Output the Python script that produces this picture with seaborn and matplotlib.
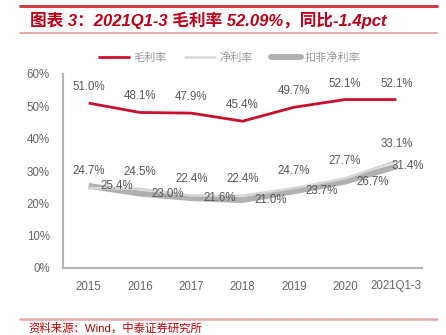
import matplotlib
matplotlib.use("Agg")
import matplotlib.pyplot as plt
import seaborn as sns
import pandas as pd
from matplotlib.lines import Line2D

# Data
years = ["2015", "2016", "2017", "2018", "2019", "2020", "2021Q1-3"]
gross_margin = [51.0, 48.1, 47.9, 45.4, 49.7, 52.1, 52.1]
net_margin = [24.7, 24.5, 22.4, 22.4, 24.7, 27.7, 33.1]
adj_net_margin = [25.4, 23.0, 21.6, 21.0, 23.7, 26.7, 31.4]
yticks = [0, 10, 20, 30, 40, 50, 60]

series_names = ["毛利率", "净利率", "扣非净利率"]
title_text = "图表 3：2021Q1-3 毛利率 52.09%，同比-1.4pct"
source_text = "资料来源：Wind，中泰证券研究所"

df = pd.DataFrame({
    "year": years,
    "gross": gross_margin,
    "net": net_margin,
    "adj": adj_net_margin,
})

sns.set_theme(style="white")
plt.rcParams["font.family"] = ["Liberation Sans", "Noto Sans CJK SC", "DejaVu Sans"]

RED = "#c8102e"
LIGHT = "#d6d6d6"
DARK = "#b0b0b0"
LABEL = "#595959"
AXIS = "#b4b4b4"

W, H = 446, 335
fig = plt.figure(figsize=(W / 100, H / 100), dpi=100)
ax = fig.add_axes([63 / W, 1 - 268 / H, (422 - 63) / W, (268 - 74) / H])

sns.lineplot(data=df, x="year", y="adj", ax=ax, color=DARK, linewidth=4.2,
             sort=False, solid_capstyle="butt")
sns.lineplot(data=df, x="year", y="net", ax=ax, color=LIGHT, linewidth=1.8,
             sort=False, solid_capstyle="butt")
sns.lineplot(data=df, x="year", y="gross", ax=ax, color=RED, linewidth=2.0,
             sort=False, solid_capstyle="butt")

ax.set_xlim(-0.5, len(years) - 0.5)
ax.set_ylim(0, 60)
ax.set_xlabel("")
ax.set_ylabel("")
ax.set_yticks(yticks)
ax.set_yticklabels([f"{v}%" for v in yticks])
ax.set_xticks(range(len(years)))
ax.set_xticklabels(years)
ax.set_xticks([i - 0.5 for i in range(len(years) + 1)], minor=True)

for side in ("top", "right"):
    ax.spines[side].set_visible(False)
for side in ("left", "bottom"):
    ax.spines[side].set_color(AXIS)
    ax.spines[side].set_linewidth(1.5)

ax.tick_params(axis="x", which="major", length=0, pad=9, labelsize=8.3, labelcolor="#666666")
ax.tick_params(axis="x", which="minor", length=3.5, width=1.2, color=AXIS, direction="out")
ax.tick_params(axis="y", which="major", length=3.5, width=1.2, color=AXIS, direction="out",
               pad=6, labelsize=8.3, labelcolor="#666666")
ax.grid(False)

fs = 8.3
for i, v in enumerate(gross_margin):
    ax.annotate(f"{v:.1f}%", (i, v), xytext=(0, 16), textcoords="offset pixels",
                ha="center", va="center", fontsize=fs, color=LABEL)
for i, v in enumerate(net_margin):
    ax.annotate(f"{v:.1f}%", (i, v), xytext=(0, 17), textcoords="offset pixels",
                ha="center", va="center", fontsize=fs, color=LABEL)
for i, v in enumerate(adj_net_margin):
    dx = 11 if i == len(years) - 1 else 28
    ax.annotate(f"{v:.1f}%", (i, v), xytext=(dx, 0), textcoords="offset pixels",
                ha="center", va="center", fontsize=fs, color=LABEL)

# Legend
handles = [
    Line2D([], [], color=RED, linewidth=2.0),
    Line2D([], [], color=LIGHT, linewidth=1.8),
    Line2D([], [], color=DARK, linewidth=4.2),
]
fig.legend(handles, series_names, loc="center", bbox_to_anchor=(230 / W, 1 - 58 / H),
           ncol=3, frameon=False, fontsize=8.0, labelcolor="#999999",
           handlelength=2.7, handletextpad=0.4, columnspacing=1.6)

# Header and footer rules
fig.add_artist(Line2D([20 / W, 437 / W], [1 - 6 / H, 1 - 6 / H], color="#d23c46", linewidth=2.2))
fig.add_artist(Line2D([20 / W, 437 / W], [1 - 33 / H, 1 - 33 / H], color="#e39a9a", linewidth=1.2))
fig.add_artist(Line2D([20 / W, 437 / W], [1 - 319 / H, 1 - 319 / H], color="#e6a8a8", linewidth=1.8))

fig.text(30 / W, 1 - 20 / H, title_text, ha="left", va="center", fontsize=12,
         fontweight="bold", fontstyle="italic", color="#c00018")
fig.text(28 / W, 1 - 328 / H, source_text, ha="left", va="center", fontsize=8.2,
         color="#c00000")

fig.savefig("out.png", dpi=100)
